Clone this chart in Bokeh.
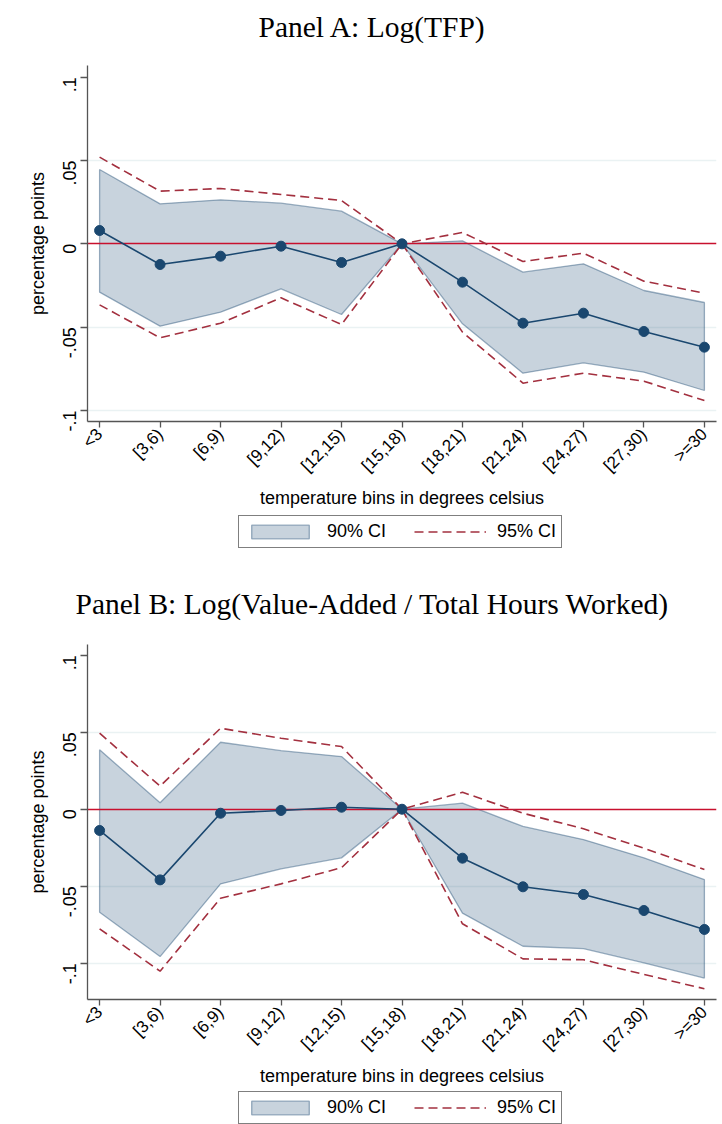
import math
from bokeh.plotting import figure
from bokeh.models import Range1d, FixedTicker, Legend, LegendItem
from bokeh.layouts import column
from bokeh.embed import file_html
from bokeh.resources import INLINE

bins = ["<3", "[3,6)", "[6,9)", "[9,12)", "[12,15)", "[15,18)",
        "[18,21)", "[21,24)", "[24,27)", "[27,30)", ">=30"]

# Panel A: Log(TFP)
a_est = [0.008, -0.0124, -0.0074, -0.0014, -0.0112, 0.0, -0.023, -0.0476, -0.0416, -0.0526, -0.062]
a_hi90 = [0.0446, 0.024, 0.0264, 0.0244, 0.0196, 0.0, 0.0018, -0.017, -0.012, -0.028, -0.0352]
a_lo90 = [-0.029, -0.0494, -0.041, -0.027, -0.0424, 0.0, -0.048, -0.0776, -0.0714, -0.077, -0.088]
a_hi95 = [0.052, 0.0316, 0.0332, 0.0296, 0.026, 0.0, 0.0068, -0.0106, -0.0056, -0.0224, -0.0296]
a_lo95 = [-0.0366, -0.0564, -0.0476, -0.0324, -0.0484, 0.0, -0.053, -0.0836, -0.0776, -0.0824, -0.094]

# Panel B: Log(Value-Added / Total Hours Worked)
b_est = [-0.0138, -0.0459, -0.0026, -0.0008, 0.0013, 0.0, -0.0318, -0.0504, -0.0554, -0.0658, -0.0781]
b_hi90 = [0.0386, 0.0042, 0.0435, 0.038, 0.0342, 0.0, 0.0039, -0.0112, -0.0197, -0.0316, -0.0457]
b_lo90 = [-0.0669, -0.0957, -0.0485, -0.0387, -0.0316, 0.0, -0.0675, -0.089, -0.0905, -0.0998, -0.1097]
b_hi95 = [0.0494, 0.015, 0.0526, 0.0461, 0.0407, 0.0, 0.011, -0.0026, -0.0127, -0.0253, -0.0392]
b_lo95 = [-0.0777, -0.1052, -0.0578, -0.0485, -0.038, 0.0, -0.0744, -0.0972, -0.0978, -0.1073, -0.1166]

y_ticks = [-0.1, -0.05, 0.0, 0.05, 0.1]
y_tick_labels = ["-.1", "-.05", "0", ".05", ".1"]
grid_ticks = [-0.1, -0.05, 0.05]
legend_labels = ["90% CI", "95% CI"]

NAVY = "#1a476f"
RED = "#c8102e"
MAROON = "#a3303f"
SANS = "Liberation Sans"
SERIF = "Liberation Serif"

XS = list(range(len(bins)))


def band(p, lo, hi):
    return p.patch(XS + XS[::-1], list(hi) + list(lo)[::-1], fill_color=NAVY, fill_alpha=0.24,
                   line_color=NAVY, line_alpha=0.42, line_width=1.3)


def dashed(p, ys):
    return p.line(XS, ys, line_color=MAROON, line_width=1.6, line_dash="9 5")


def blank_figure(height, title=None):
    q = figure(width=722, height=height, title=title,
               x_range=Range1d(100, 101), y_range=Range1d(100, 101),
               output_backend="svg", toolbar_location=None,
               x_axis_location=None, y_axis_location=None,
               min_border_left=0, min_border_right=0, min_border_top=0, min_border_bottom=0)
    q.outline_line_color = None
    q.xgrid.grid_line_color = None
    q.ygrid.grid_line_color = None
    q.background_fill_color = "white"
    q.border_fill_color = "white"
    return q


def make_title(text, offset, height, standoff):
    q = blank_figure(height, text)
    q.title.align = "left"
    q.title.offset = offset
    q.title.vertical_align = "bottom"
    q.title.text_font = SERIF
    q.title.text_font_size = "29.5px"
    q.title.text_font_style = "normal"
    q.title.text_color = "black"
    q.title.standoff = standoff
    return q


def make_panel(est, lo90, hi90, lo95, hi95, y_lo, height, top, bottom):
    p = figure(width=722, height=height, title=None,
               x_range=Range1d(-0.2, 10.2), y_range=Range1d(y_lo, 0.107),
               output_backend="svg", toolbar_location=None,
               min_border_left=87, min_border_right=6,
               min_border_top=top, min_border_bottom=bottom)
    p.outline_line_color = None
    p.background_fill_color = "white"
    p.border_fill_color = "white"

    p.xaxis.ticker = FixedTicker(ticks=XS)
    p.xaxis.major_label_overrides = {i: b for i, b in enumerate(bins)}
    p.xaxis.major_label_orientation = math.pi / 4
    p.yaxis.ticker = FixedTicker(ticks=y_ticks)
    p.yaxis.major_label_overrides = {t: l for t, l in zip(y_ticks, y_tick_labels)}
    p.yaxis.major_label_orientation = math.pi / 2
    for ax in (p.xaxis, p.yaxis):
        ax.axis_line_color = "#555555"
        ax.axis_line_width = 1.3
        ax.major_tick_line_color = "#555555"
        ax.major_tick_line_width = 1.3
        ax.major_tick_in = 0
        ax.minor_tick_line_color = None
        ax.major_label_text_font = SANS
        ax.major_label_text_color = "black"
        ax.axis_label_text_font = SANS
        ax.axis_label_text_font_style = "normal"
        ax.axis_label_text_font_size = "18px"
        ax.axis_label_text_color = "black"
    p.xaxis.major_tick_out = 6
    p.yaxis.major_tick_out = 7
    p.xaxis.major_label_text_font_size = "17px"
    p.yaxis.major_label_text_font_size = "18px"
    p.xaxis.major_label_standoff = 4
    p.yaxis.major_label_standoff = 11
    p.xaxis.axis_label = "temperature bins in degrees celsius"
    p.yaxis.axis_label = "percentage points"
    p.xaxis.axis_label_standoff = 3
    p.yaxis.axis_label_standoff = 6

    p.xgrid.grid_line_color = None
    p.ygrid.ticker = FixedTicker(ticks=grid_ticks)
    p.ygrid.grid_line_color = "#eaf2f3"
    p.ygrid.grid_line_width = 1.5

    band(p, lo90, hi90)
    p.hspan(y=[0.0], line_color=RED, line_width=1.5)
    dashed(p, hi95)
    dashed(p, lo95)
    p.line(XS, est, line_color=NAVY, line_width=1.6)
    p.scatter(XS, est, size=10, fill_color=NAVY, line_color=NAVY)
    return p


def make_legend(lo90, hi90, hi95, height, loc_y):
    q = blank_figure(height)
    r_band = band(q, lo90, hi90)
    r_dash = dashed(q, hi95)
    legend = Legend(items=[LegendItem(label=legend_labels[0], renderers=[r_band]),
                           LegendItem(label=legend_labels[1], renderers=[r_dash])],
                    location=(151, loc_y), orientation="horizontal",
                    glyph_width=72, glyph_height=17, label_standoff=11,
                    spacing=28, padding=5, margin=0,
                    border_line_color="black", border_line_width=1,
                    label_text_font=SANS, label_text_font_size="18px",
                    label_text_color="black", background_fill_color="white",
                    background_fill_alpha=1.0)
    q.add_layout(legend)
    return q


tA = make_title("Panel A: Log(TFP)", 171, 60, 17)
pA = make_panel(a_est, a_lo90, a_hi90, a_lo95, a_hi95, -0.1066, 452, 5, 91)
lA = make_legend(a_lo90, a_hi90, a_hi95, 66, 30)
tB = make_title("Panel B: Log(Value-Added / Total Hours Worked)", -12, 56, 15)
pB = make_panel(b_est, b_lo90, b_hi90, b_lo95, b_hi95, -0.1236, 456, 10, 91)
lB = make_legend(b_lo90, b_hi90, b_hi95, 34, 0)

layout = column(tA, pA, lA, tB, pB, lB, spacing=0)
open("out.html", "w").write(file_html(layout, INLINE))
